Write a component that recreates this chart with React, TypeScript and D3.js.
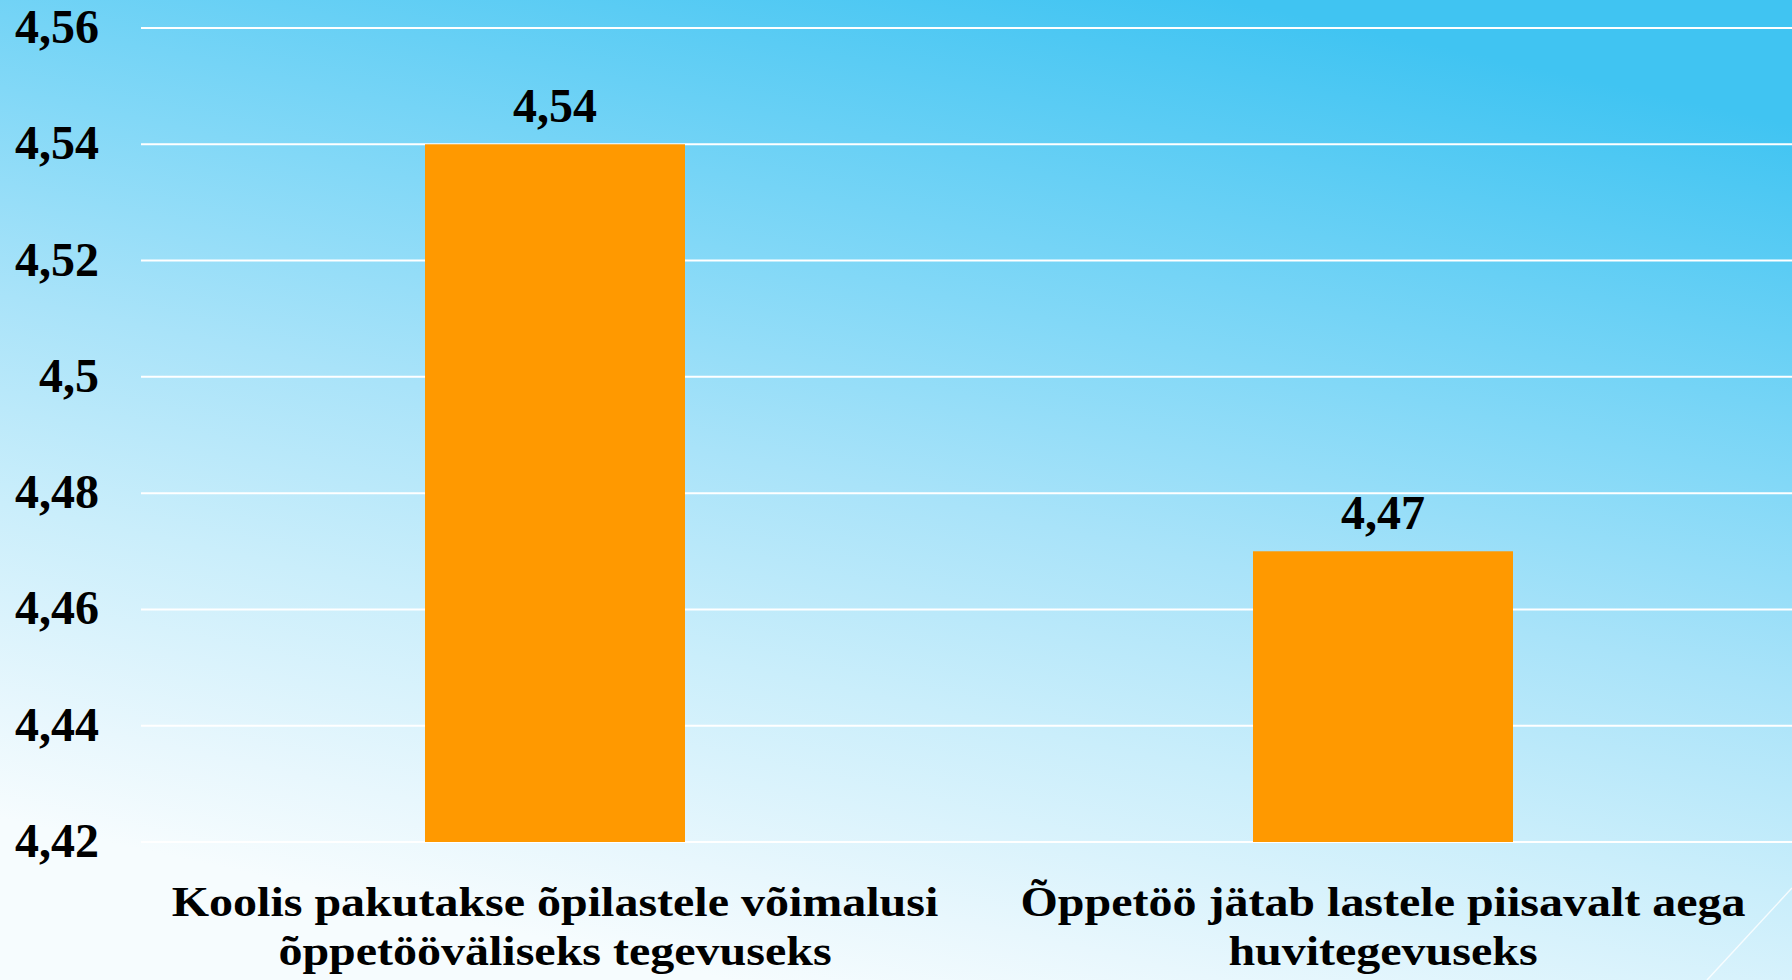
import React from 'react';
import * as d3 from 'd3';

const W = 1792;
const H = 980;

// data
const categoryIds = ['c1', 'c2'];
const categoryLines = [
  ['Koolis pakutakse õpilastele võimalusi', 'õppetööväliseks tegevuseks'],
  ['Õppetöö jätab lastele piisavalt aega', 'huvitegevuseks'],
];
const values = [4.54, 4.47];
const valueLabels = ['4,54', '4,47'];
const yTicks = [4.42, 4.44, 4.46, 4.48, 4.5, 4.52, 4.54, 4.56];
const yTickLabels = ['4,42', '4,44', '4,46', '4,48', '4,5', '4,52', '4,54', '4,56'];

const FONT = '"Liberation Serif", "Times New Roman", serif';

export default function App() {
  const margin = { top: 28, left: 141, bottom: 842, right: 1797 };

  const x = d3.scaleBand<string>()
    .domain(categoryIds)
    .range([margin.left, margin.right])
    .paddingInner(0.686)
    .paddingOuter(0.343);

  const y = d3.scaleLinear()
    .domain([4.42, 4.56])
    .range([margin.bottom, margin.top]);

  return (
    <div style={{ position: 'absolute', left: 0, top: 0 }}>
      <svg width={W} height={H} style={{ display: 'block' }}>
        <defs>
          {/* mostly vertical sky gradient, slightly darker to the top right */}
          <linearGradient id="bg" gradientUnits="userSpaceOnUse" x1={1050} y1={-40} x2={820} y2={1000}>
            <stop offset="0" stopColor="#40c4f2" />
            <stop offset="0.33" stopColor="#82d8f7" />
            <stop offset="0.52" stopColor="#a9e3f9" />
            <stop offset="0.71" stopColor="#caeefb" />
            <stop offset="0.9" stopColor="#e8f7fd" />
            <stop offset="1" stopColor="#f6fcfe" />
          </linearGradient>
        </defs>
        <rect x={0} y={0} width={W} height={H} fill="url(#bg)" />

        {/* faint decorative stroke, bottom right */}
        <line x1={1792} y1={888} x2={1707} y2={980} stroke="#ffffff" strokeOpacity={0.8} strokeWidth={1.5} />

        {/* gridlines */}
        {yTicks.map((t) => (
          <line key={t} x1={margin.left} x2={W} y1={y(t)} y2={y(t)} stroke="#ffffff" strokeWidth={2} />
        ))}

        {/* y tick labels */}
        {yTicks.map((t, i) => (
          <text
            key={'l' + t}
            x={99}
            y={y(t) + 15}
            textAnchor="end"
            fontFamily={FONT}
            fontWeight="bold"
            fontSize={48}
            fill="#000"
          >
            {yTickLabels[i]}
          </text>
        ))}

        {/* bars */}
        {categoryIds.map((c, i) => (
          <rect
            key={c}
            x={x(c)}
            y={y(values[i])}
            width={x.bandwidth()}
            height={y(4.42) - y(values[i])}
            fill="#ff9900"
          />
        ))}

        {/* value labels */}
        {categoryIds.map((c, i) => (
          <text
            key={'v' + c}
            x={(x(c) ?? 0) + x.bandwidth() / 2}
            y={y(values[i]) - 22}
            textAnchor="middle"
            fontFamily={FONT}
            fontWeight="bold"
            fontSize={48}
            fill="#000"
          >
            {valueLabels[i]}
          </text>
        ))}

        {/* category labels */}
        {categoryIds.map((c, i) => {
          const cx = (x(c) ?? 0) + x.bandwidth() / 2;
          return (
            <g key={'c' + c} transform={`translate(${cx},916) scale(1,0.87)`}>
              {categoryLines[i].map((line, j) => (
                <text
                  key={j}
                  x={0}
                  y={j * 49 / 0.87}
                  textAnchor="middle"
                  fontFamily={FONT}
                  fontWeight="bold"
                  fontSize={48}
                  fill="#000"
                >
                  {line}
                </text>
              ))}
            </g>
          );
        })}
      </svg>
    </div>
  );
}
